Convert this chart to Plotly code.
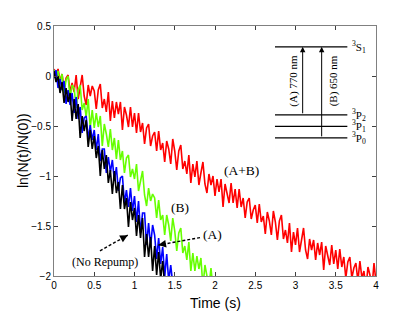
import plotly.graph_objects as go

# ---------------- data ----------------
DT = 0.025  # sampling step of the traces (s)

red_ab = [0.07, -0.03, 0.07, -0.05, 0.02, -0.12, -0.02, 0.01, -0.16, -0.07,
          -0.16, 0.01, -0.23, -0.10, 0.01, -0.20, -0.29, -0.09, -0.20, -0.10,
          -0.15, -0.33, -0.14, -0.08, -0.32, -0.23, -0.36, -0.16, -0.45, -0.25,
          -0.42, -0.26, -0.38, -0.26, -0.54, -0.31, -0.39, -0.51, -0.31, -0.51,
          -0.37, -0.57, -0.37, -0.56, -0.47, -0.68, -0.52, -0.48, -0.70, -0.60,
          -0.56, -0.75, -0.55, -0.74, -0.67, -0.86, -0.65, -0.73, -0.88, -0.63,
          -0.75, -0.94, -0.75, -0.69, -0.93, -0.85, -0.98, -0.79, -1.07, -0.88,
          -1.01, -0.85, -1.09, -0.97, -0.86, -1.08, -1.17, -0.98, -1.09, -1.00,
          -1.20, -1.03, -1.16, -1.03, -1.31, -1.08, -1.16, -1.27, -1.07, -1.27,
          -1.13, -1.32, -1.13, -1.31, -1.22, -1.42, -1.26, -1.22, -1.43, -1.34,
          -1.29, -1.47, -1.28, -1.46, -1.40, -1.58, -1.36, -1.45, -1.59, -1.35,
          -1.46, -1.64, -1.45, -1.39, -1.63, -1.54, -1.67, -1.47, -1.76, -1.56,
          -1.69, -1.52, -1.76, -1.63, -1.52, -1.74, -1.83, -1.63, -1.74, -1.64,
          -1.84, -1.67, -1.79, -1.66, -1.94, -1.70, -1.78, -1.89, -1.69, -1.88,
          -1.74, -1.93, -1.73, -1.91, -1.81, -2.02, -1.86, -1.81, -2.02, -1.92,
          -1.87, -2.05, -1.85, -2.02, -1.95, -2.13, -1.91, -1.99, -2.12, -1.87,
          -2.06]

green_b = [0.06, -0.04, 0.05, -0.07, 0.02, -0.17, -0.04, 0.00, -0.22, -0.09,
           -0.12, -0.32, -0.14, -0.09, -0.34, -0.27, -0.41, -0.23, -0.52, -0.34,
           -0.52, -0.37, -0.51, -0.40, -0.70, -0.48, -0.58, -0.71, -0.53, -0.74,
           -0.62, -0.83, -0.64, -0.84, -0.75, -0.97, -0.82, -0.79, -1.01, -0.93,
           -1.03, -0.88, -1.15, -1.04, -0.95, -1.19, -1.30, -1.12, -1.25, -1.18,
           -1.22, -1.42, -1.24, -1.44, -1.39, -1.59, -1.39, -1.49, -1.65, -1.42,
           -1.55, -1.75, -1.57, -1.52, -1.77, -1.70, -1.84, -1.66, -1.95, -1.77,
           -1.95, -1.80, -1.93, -1.82, -2.11, -1.89, -1.98, -2.11, -1.92, -2.13,
           -2.15]

blue_a = [-0.02, 0.06, -0.12, -0.03, -0.14, -0.05, -0.28, -0.14, -0.29, -0.17,
          -0.37, -0.21, -0.43, -0.31, -0.57, -0.42, -0.40, -0.63, -0.49, -0.64,
          -0.54, -0.74, -0.58, -0.85, -0.73, -0.73, -0.97, -0.81, -0.96, -0.84,
          -1.05, -0.91, -1.15, -1.02, -1.00, -1.27, -1.14, -1.31, -1.12, -1.35,
          -1.20, -1.46, -1.25, -1.57, -1.37, -1.37, -1.69, -1.47, -1.70, -1.49,
          -1.59, -1.83, -1.62, -1.88, -1.71, -2.01, -1.78, -2.05, -1.89, -2.08,
          -2.01]

black_none = [0.05, -0.06, 0.00, -0.17, -0.06, -0.27, -0.12, -0.26, -0.17, -0.45,
              -0.23, -0.43, -0.28, -0.62, -0.40, -0.55, -0.44, -0.71, -0.54, -0.73,
              -0.60, -0.82, -0.70, -1.00, -0.74, -0.93, -0.79, -1.07, -0.94, -1.18,
              -0.95, -1.17, -1.06, -1.33, -1.09, -1.33, -1.22, -1.51, -1.26, -1.44,
              -1.32, -1.60, -1.39, -1.62, -1.42, -1.81, -1.58, -1.81, -1.61, -1.95,
              -1.70, -1.99, -1.76, -2.03, -1.85, -2.10, -2.01]

x_ticks = [0, 0.5, 1, 1.5, 2, 2.5, 3, 3.5, 4]
y_ticks = [0.5, 0, -0.5, -1, -1.5, -2]

# inset level diagram
level_labels = ["<sup>3</sup>S<sub>1</sub>", "<sup>3</sup>P<sub>2</sub>",
                "<sup>3</sup>P<sub>1</sub>", "<sup>3</sup>P<sub>0</sub>"]
level_energy = [0.292, -0.388, -0.503, -0.619]
transitions = [("(A) 770 nm", 1), ("(B) 650 nm", 3)]  # (label, lower level index)

# ---------------- figure ----------------
SERIF = "Liberation Serif"
SANS = "Liberation Sans"

fig = go.Figure()
for ys, col, w in [(red_ab, "#ff0000", 1.6), (green_b, "#66ff00", 1.6),
                   (blue_a, "#0000ff", 1.6), (black_none, "#000000", 1.6)]:
    fig.add_trace(go.Scatter(y=ys, x0=0, dx=DT, mode="lines",
                             line=dict(color=col, width=w), showlegend=False,
                             hoverinfo="skip"))

ann = []
shapes = []

# inset levels
LX0, LX1 = 2.745, 3.644
for lab, e in zip(level_labels, level_energy):
    shapes.append(dict(type="line", xref="x", yref="y", x0=LX0, x1=LX1, y0=e, y1=e,
                       line=dict(color="black", width=1.2)))
    ann.append(dict(x=3.68, y=e, xref="x", yref="y", text=lab, showarrow=False,
                    xanchor="left", yanchor="middle",
                    font=dict(family=SERIF, size=11, color="black")))

arrow_x = [3.089, 3.325]
label_x = [2.965, 3.47]
for (lab, lo), ax_, lx in zip(transitions, arrow_x, label_x):
    ann.append(dict(x=ax_, y=level_energy[0], ax=ax_, ay=level_energy[lo],
                    xref="x", yref="y", axref="x", ayref="y", text="",
                    showarrow=True, arrowhead=2, arrowsize=1.1, arrowwidth=1,
                    arrowcolor="black"))
    ann.append(dict(x=lx, y=-0.05, xref="x", yref="y", text=lab, textangle=-90,
                    showarrow=False, font=dict(family=SERIF, size=11, color="black")))

# curve labels
for txt, x, y, sz in [("(A+B)", 2.327, -0.949, 13.5), ("(B)", 1.565, -1.31, 13.5),
                      ("(A)", 1.97, -1.58, 13.5), ("(No Repump)", 0.634, -1.863, 12)]:
    ann.append(dict(x=x, y=y, xref="x", yref="y", text=txt, showarrow=False,
                    font=dict(family=SERIF, size=sz, color="black")))

# dashed pointer arrows: (tail, head)
for (tx, ty), (hx, hy) in [((0.571, -1.748), (0.916, -1.592)),
                           ((1.814, -1.616), (1.296, -1.691))]:
    shapes.append(dict(type="line", xref="x", yref="y", x0=tx, y0=ty, x1=hx, y1=hy,
                       line=dict(color="black", width=1.4, dash="3px,2px")))
    ann.append(dict(x=hx, y=hy, ax=hx + (tx - hx) * 0.15, ay=hy + (ty - hy) * 0.15,
                    xref="x", yref="y", axref="x", ayref="y", text="",
                    showarrow=True, arrowhead=2, arrowsize=1.1, arrowwidth=1.4,
                    arrowcolor="black"))

# axis titles placed as paper annotations
ann.append(dict(x=-0.096, y=0.5, xref="paper", yref="paper", text="ln(N(t)/N(0))",
                textangle=-90, showarrow=False, xanchor="center", yanchor="middle",
                font=dict(family=SANS, size=14, color="black")))
ann.append(dict(x=0.5, y=-0.109, xref="paper", yref="paper", text="Time (s)",
                showarrow=False, xanchor="center", yanchor="middle",
                font=dict(family=SANS, size=14, color="black")))

# page has an 8px body margin, so the figure is 8px smaller than the window
fig.update_layout(
    width=408, height=306,
    margin=dict(l=46, r=40, t=16, b=38),
    paper_bgcolor="white", plot_bgcolor="white",
    annotations=ann, shapes=shapes,
    font=dict(family=SANS, size=10, color="black"),
)
common = dict(showline=True, linecolor="#808080", linewidth=1, mirror="ticks",
              ticks="inside", ticklen=4, tickcolor="#404040", tickwidth=1,
              showgrid=False, zeroline=False,
              tickfont=dict(family=SANS, size=10, color="black"))
fig.update_xaxes(range=[0, 4], tickvals=x_ticks, **common)
fig.update_yaxes(range=[-2, 0.5], tickvals=y_ticks, **common)

fig.write_html("out.html")
